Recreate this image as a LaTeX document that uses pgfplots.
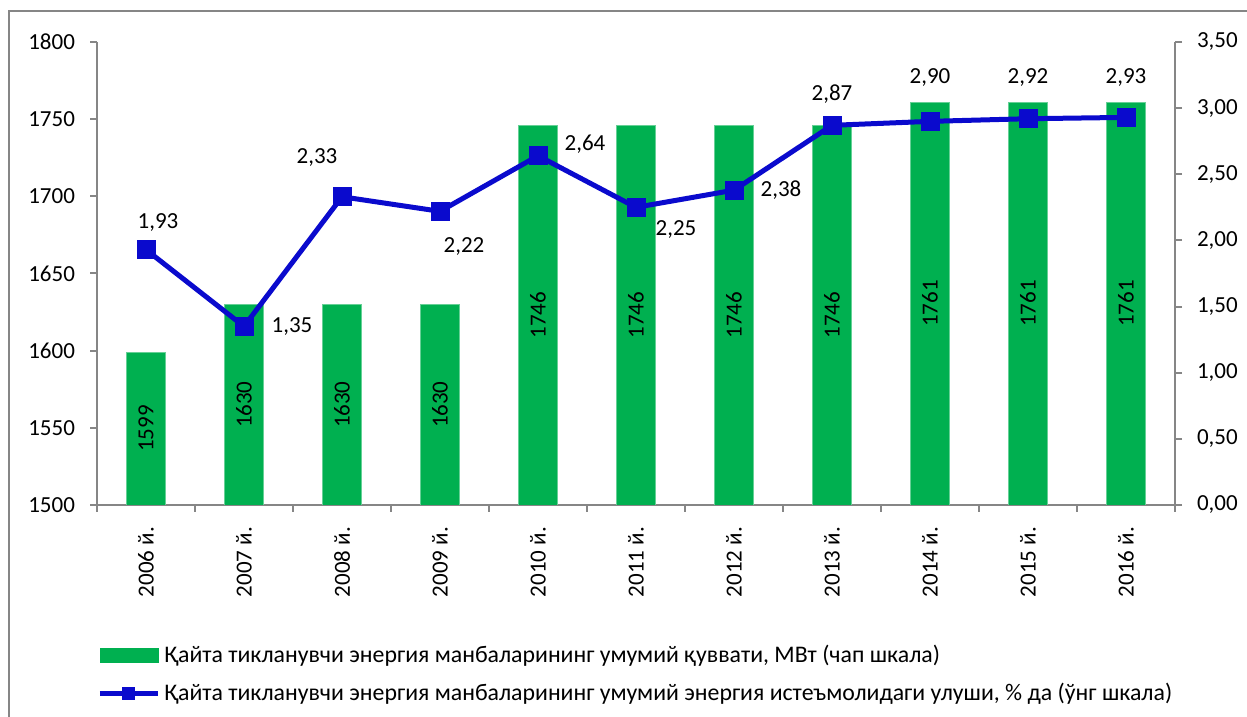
\documentclass[border=0pt]{standalone}
\usepackage{fontspec}
\setmainfont{Carlito}
\usepackage{pgfplots}
\pgfplotsset{compat=1.18}

\definecolor{barg}{RGB}{0,176,80}
\definecolor{lineb}{RGB}{10,10,205}
\definecolor{axgray}{RGB}{134,134,134}

\pgfplotsset{
    sqleg/.style={legend image code/.code={%
        \draw[mark repeat=2, mark phase=2, ##1, mark size=3pt]
            plot coordinates {(0pt,0pt) (14.5pt,0pt) (29pt,0pt)};}},
    barleg/.style={legend image code/.code={%
        \fill[barg] (0pt,-3.5pt) rectangle (29pt,3.5pt);}},
}

\pgfplotstableread{
x v
0 1599
1 1630
2 1630
3 1630
4 1746
5 1746
6 1746
7 1746
8 1761
9 1761
10 1761
}\bars

% bar labels sit half way up each bar
\pgfplotstableread{
x y lab
0 1549.5 1599
1 1565 1630
2 1565 1630
3 1565 1630
4 1623 1746
5 1623 1746
6 1623 1746
7 1623 1746
8 1630.5 1761
9 1630.5 1761
10 1630.5 1761
}\barlabs

\pgfplotstableread{
x s
0 1.93
1 1.35
2 2.33
3 2.22
4 2.64
5 2.25
6 2.38
7 2.87
8 2.90
9 2.92
10 2.93
}\share

% label offsets from the marker, in pt
\pgfplotstableread{
x s lab dx dy
0 1.93 1,93 6 13.5
1 1.35 1,35 24 0
2 2.33 2,33 -12.5 19.5
3 2.22 2,22 12 -17.5
4 2.64 2,64 23.5 6
5 2.25 2,25 20 -11
6 2.38 2,38 23.5 0
7 2.87 2,87 0 15.5
8 2.90 2,90 0 22
9 2.92 2,92 0 20.5
10 2.93 2,93 0 20
}\sharelabs

\begin{document}
\begin{tikzpicture}[font=\fontsize{11.5}{13}\selectfont]
\useasboundingbox (0,0) rectangle (623.5pt,358.5pt);
\draw[axgray, line width=1pt] (4.5pt,-2pt) -- (4.5pt,353pt) -- (630pt,353pt);

\begin{axis}[
    at={(48.5pt,106pt)}, anchor=south west,
    scale only axis,
    width=539pt, height=231.5pt,
    xmin=-0.5, xmax=10.5,
    ymin=1500, ymax=1800,
    axis x line=bottom, axis y line=left,
    axis line style={axgray, line width=1pt, -},
    xtick={0,...,10},
    xticklabels={2006 й.,2007 й.,2008 й.,2009 й.,2010 й.,2011 й.,2012 й.,2013 й.,2014 й.,2015 й.,2016 й.},
    x tick label style={rotate=90, anchor=east},
    xticklabel shift=4pt,
    minor xtick={-0.5,0.5,...,10.5},
    major x tick style={draw=none},
    minor x tick style={axgray, line width=1pt},
    ytick={1500,1550,...,1800},
    y tick style={axgray, line width=1pt},
    y tick label style={xshift=-4pt},
    tick align=outside,
    major tick length=3.5pt, minor tick length=3.5pt,
    /pgf/number format/assume math mode=true,
    /pgf/number format/1000 sep={},
]
\addplot[ybar, bar width=19.5pt, bar shift=0pt, fill=barg, draw=barg!60!white, line width=0.3pt]
    table[x=x, y=v] {\bars};
\addplot[draw=none, no marks, point meta=explicit symbolic,
    nodes near coords, nodes near coords style={rotate=90, anchor=center, inner sep=0pt}]
    table[x=x, y=y, meta=lab] {\barlabs};
\end{axis}

\begin{axis}[
    at={(48.5pt,106pt)}, anchor=south west,
    scale only axis,
    width=539pt, height=231.5pt,
    xmin=-0.5, xmax=10.5,
    ymin=0, ymax=3.5,
    axis x line=none, axis y line=right,
    axis line style={axgray, line width=1pt, -},
    ytick={0,0.5,...,3.5},
    y tick style={axgray, line width=1pt},
    y tick label style={xshift=4pt},
    tick align=outside,
    major tick length=3.5pt,
    yticklabel={\pgfmathprintnumber[fixed, fixed zerofill, precision=2, use comma, assume math mode=true]{\tick}},
    legend style={at={(0,-0.294)}, anchor=north west, draw=none, fill=none,
        inner sep=0pt, row sep=4.5pt, font=\fontsize{11.9}{13}\selectfont},
    legend cell align=left,
]
\addlegendimage{barleg}
\addlegendentry{Қайта тикланувчи энергия манбаларининг умумий қуввати, МВт (чап шкала)}
\addplot[lineb, line width=2.5pt, mark=square*, mark size=4.5pt,
    mark options={solid, fill=lineb, line width=0.5pt}, sqleg]
    table[x=x, y=s] {\share};
\addlegendentry{Қайта тикланувчи энергия манбаларининг умумий энергия истеъмолидаги улуши, \% да (ўнг шкала)}
\addplot[draw=none, no marks, point meta=explicit symbolic,
    visualization depends on={\thisrow{dx} \as \dx},
    visualization depends on={\thisrow{dy} \as \dy},
    nodes near coords, nodes near coords style={anchor=center, inner sep=0pt, xshift=\dx pt, yshift=\dy pt}]
    table[x=x, y=s, meta=lab] {\sharelabs};
\end{axis}
\end{tikzpicture}
\end{document}
